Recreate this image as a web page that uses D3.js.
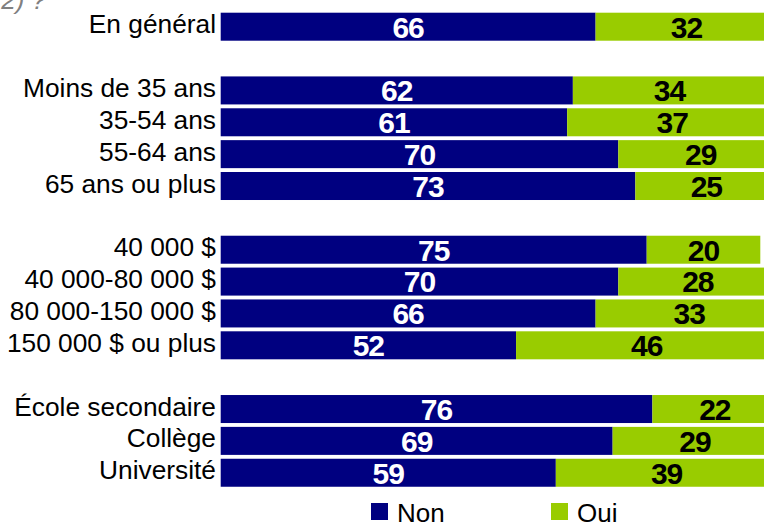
<!DOCTYPE html>
<html>
<head>
<meta charset="utf-8">
<script src="https://cdn.jsdelivr.net/npm/d3@7"></script>
<style>
  body { margin: 0; background: #fff; }
  svg { display: block; font-family: "Liberation Sans", Arial, sans-serif; }
</style>
</head>
<body>
<div id="chart"></div>
<script>
// données
var categories = ["En général", "Moins de 35 ans", "35-54 ans", "55-64 ans", "65 ans ou plus",
  "40 000 $", "40 000-80 000 $", "80 000-150 000 $", "150 000 $ ou plus",
  "École secondaire", "Collège", "Université"];
var non = [66, 62, 61, 70, 73, 75, 70, 66, 52, 76, 69, 59];
var oui = [32, 34, 37, 29, 25, 20, 28, 33, 46, 22, 29, 39];
var groupSizes = [1, 4, 4, 3];
var series = ["Non", "Oui"];
var colors = ["#000080", "#99cc00"];

var width = 764, height = 522;

// lignes + lignes vides entre les groupes
var slots = [];
var rows = [];
var k = 0;
groupSizes.forEach(function (n, g) {
  for (var i = 0; i < n; i++) {
    slots.push("r" + k);
    rows.push({ key: "r" + k, name: categories[k], non: non[k], oui: oui[k] });
    k++;
  }
  if (g < groupSizes.length - 1) slots.push("gap" + g);
});

var xScale = d3.scaleLinear().domain([0, 100]).range([220.7, 220.7 + 568]);
var yScale = d3.scaleBand().domain(slots).range([12.7, 486.75]).paddingInner(0.121).paddingOuter(0);
var color = d3.scaleOrdinal().domain(series).range(colors);

var svg = d3.select("#chart").append("svg")
  .attr("width", width)
  .attr("height", height);

// bout du titre coupé en haut
svg.append("text")
  .attr("x", 46).attr("y", 9)
  .attr("text-anchor", "end")
  .attr("font-size", 26)
  .attr("font-style", "italic")
  .attr("fill", "#808080")
  .text("(2022) ?");

var stack = d3.stack().keys(["non", "oui"])(rows);

var layer = svg.selectAll("g.layer")
  .data(stack)
  .enter().append("g")
  .attr("class", "layer")
  .attr("fill", function (d, i) { return colors[i]; });

layer.selectAll("rect")
  .data(function (d) { return d; })
  .enter().append("rect")
  .attr("x", function (d) { return xScale(d[0]); })
  .attr("y", function (d) { return yScale(d.data.key); })
  .attr("width", function (d) { return xScale(d[1]) - xScale(d[0]); })
  .attr("height", yScale.bandwidth());

layer.selectAll("text")
  .data(function (d) { return d; })
  .enter().append("text")
  .attr("x", function (d) { return (xScale(d[0]) + xScale(d[1])) / 2; })
  .attr("y", function (d) { return yScale(d.data.key) + yScale.bandwidth() / 2 + 10.8; })
  .attr("text-anchor", "middle")
  .attr("font-size", 30)
  .attr("font-weight", "bold")
  .attr("letter-spacing", -1)
  .attr("fill", function () { return this.parentNode.__data__.key === "non" ? "#fff" : "#000"; })
  .text(function (d) { return d[1] - d[0]; });

// étiquettes des catégories
svg.append("g").selectAll("text")
  .data(rows)
  .enter().append("text")
  .attr("x", 216)
  .attr("y", function (d) { return yScale(d.key) + yScale.bandwidth() / 2 + 6.5; })
  .attr("text-anchor", "end")
  .attr("font-size", 26.3)
  .attr("fill", "#000")
  .text(function (d) { return d.name; });

// légende
var legend = svg.append("g").selectAll("g")
  .data(series)
  .enter().append("g")
  .attr("transform", function (d, i) { return "translate(" + (371 + i * 180) + ",503)"; });

legend.append("rect")
  .attr("width", 17).attr("height", 17)
  .attr("fill", function (d) { return color(d); });

legend.append("text")
  .attr("x", 26).attr("y", 18.5)
  .attr("font-size", 26)
  .attr("fill", "#000")
  .text(function (d) { return d; });
</script>
</body>
</html>
